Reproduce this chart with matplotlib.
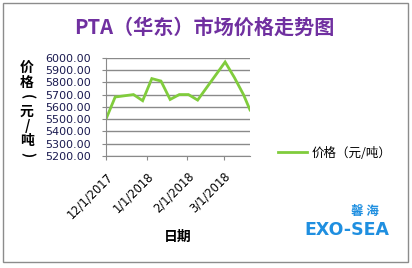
import matplotlib
matplotlib.use("Agg")
import matplotlib.pyplot as plt
from matplotlib.patches import Rectangle
from matplotlib.lines import Line2D
import numpy as np
import datetime as dt

plt.rcParams['font.family'] = ['Noto Sans CJK SC', 'DejaVu Sans']

dates = ["2017-12-01", "2017-12-08", "2017-12-22", "2017-12-29", "2018-01-05",
         "2018-01-12", "2018-01-19", "2018-01-26", "2018-02-02", "2018-02-09",
         "2018-03-02", "2018-03-09", "2018-03-16", "2018-03-21"]
prices = [5500, 5680, 5700, 5650, 5830, 5810, 5660, 5700, 5700, 5655,
          5965, 5840, 5700, 5575]
tick_dates = ["2017-12-01", "2018-01-01", "2018-02-01", "2018-03-01"]
tick_labels = ["12/1/2017", "1/1/2018", "2/1/2018", "3/1/2018"]

title = "PTA（华东）市场价格走势图"
ylabel_chars = ["价", "格", "(", "元", "/", "吨", ")"]
xlabel = "日期"
series_name = "价格（元/吨）"

W, H = 412, 268
fig = plt.figure(figsize=(W / 100, H / 100), dpi=100)
fig.patch.set_facecolor("white")

# outer chart border
fig.patches.append(Rectangle((3 / W, 6 / H), 405 / W, 259 / H, transform=fig.transFigure,
                             fill=False, edgecolor="#8c8c8c", lw=1))

ax = fig.add_axes([106 / W, 1 - 156 / H, 144 / W, 98.3 / H])
x = [dt.datetime.strptime(d, "%Y-%m-%d") for d in dates]
ax.plot(x, prices, color="#80cc3c", lw=2, solid_joinstyle="miter")

ax.set_ylim(5200, 6000)
ax.set_yticks(np.arange(5200, 6001, 100))
ax.yaxis.set_major_formatter(matplotlib.ticker.FormatStrFormatter("%.2f"))
ax.set_xlim(dt.datetime(2017, 12, 1), dt.datetime(2018, 3, 21))
ax.set_xticks([dt.datetime.strptime(d, "%Y-%m-%d") for d in tick_dates])
ax.set_xticklabels(tick_labels, rotation=45, ha="right", rotation_mode="anchor",
                   fontsize=8.3, family="DejaVu Sans")
for t in ax.get_yticklabels():
    t.set_fontsize(8)
    t.set_family("DejaVu Sans")
    t.set_color("#1a1a50")

ax.grid(axis="y", color="#8a8a8a", lw=1)
ax.set_axisbelow(True)
for s in ["top", "right"]:
    ax.spines[s].set_visible(False)
for s in ["left", "bottom"]:
    ax.spines[s].set_color("#8a8a8a")
ax.tick_params(axis="both", direction="out", length=3, color="#8a8a8a")
ax.tick_params(axis="y", pad=8)
ax.tick_params(axis="x", pad=7)

fig.text(204 / W, 1 - 27 / H, title, ha="center", va="center", fontsize=14.5,
         fontweight="bold", color="#7030a0")

# vertical stacked y label
for i, ch in enumerate(ylabel_chars):
    rot = -90 if ch in "()" else 0
    fig.text(27 / W, 1 - (68 + i * 14.5) / H, ch, ha="center", va="center",
             fontsize=10, fontweight="bold", rotation=rot)

fig.text(178 / W, 1 - 237 / H, xlabel, ha="center", va="center", fontsize=10,
         fontweight="bold")

handle = Line2D([], [], color="#80cc3c", lw=2)
fig.legend([handle], [series_name], loc="center left", bbox_to_anchor=(278 / W, 1 - 153 / H),
           frameon=False, fontsize=9, handlelength=2.3, handletextpad=0.4,
           borderpad=0, borderaxespad=0)

# logo text
fig.text(365 / W, 1 - 212 / H, "馨 海", ha="center", va="center", fontsize=9,
         fontweight="bold", color="#1f8fe0")
fig.text(347 / W, 1 - 230 / H, "EXO-SEA", ha="center", va="center", fontsize=12.5,
         fontweight="bold", color="#1f8fe0", family="DejaVu Sans")

fig.savefig("out.png", dpi=100)
